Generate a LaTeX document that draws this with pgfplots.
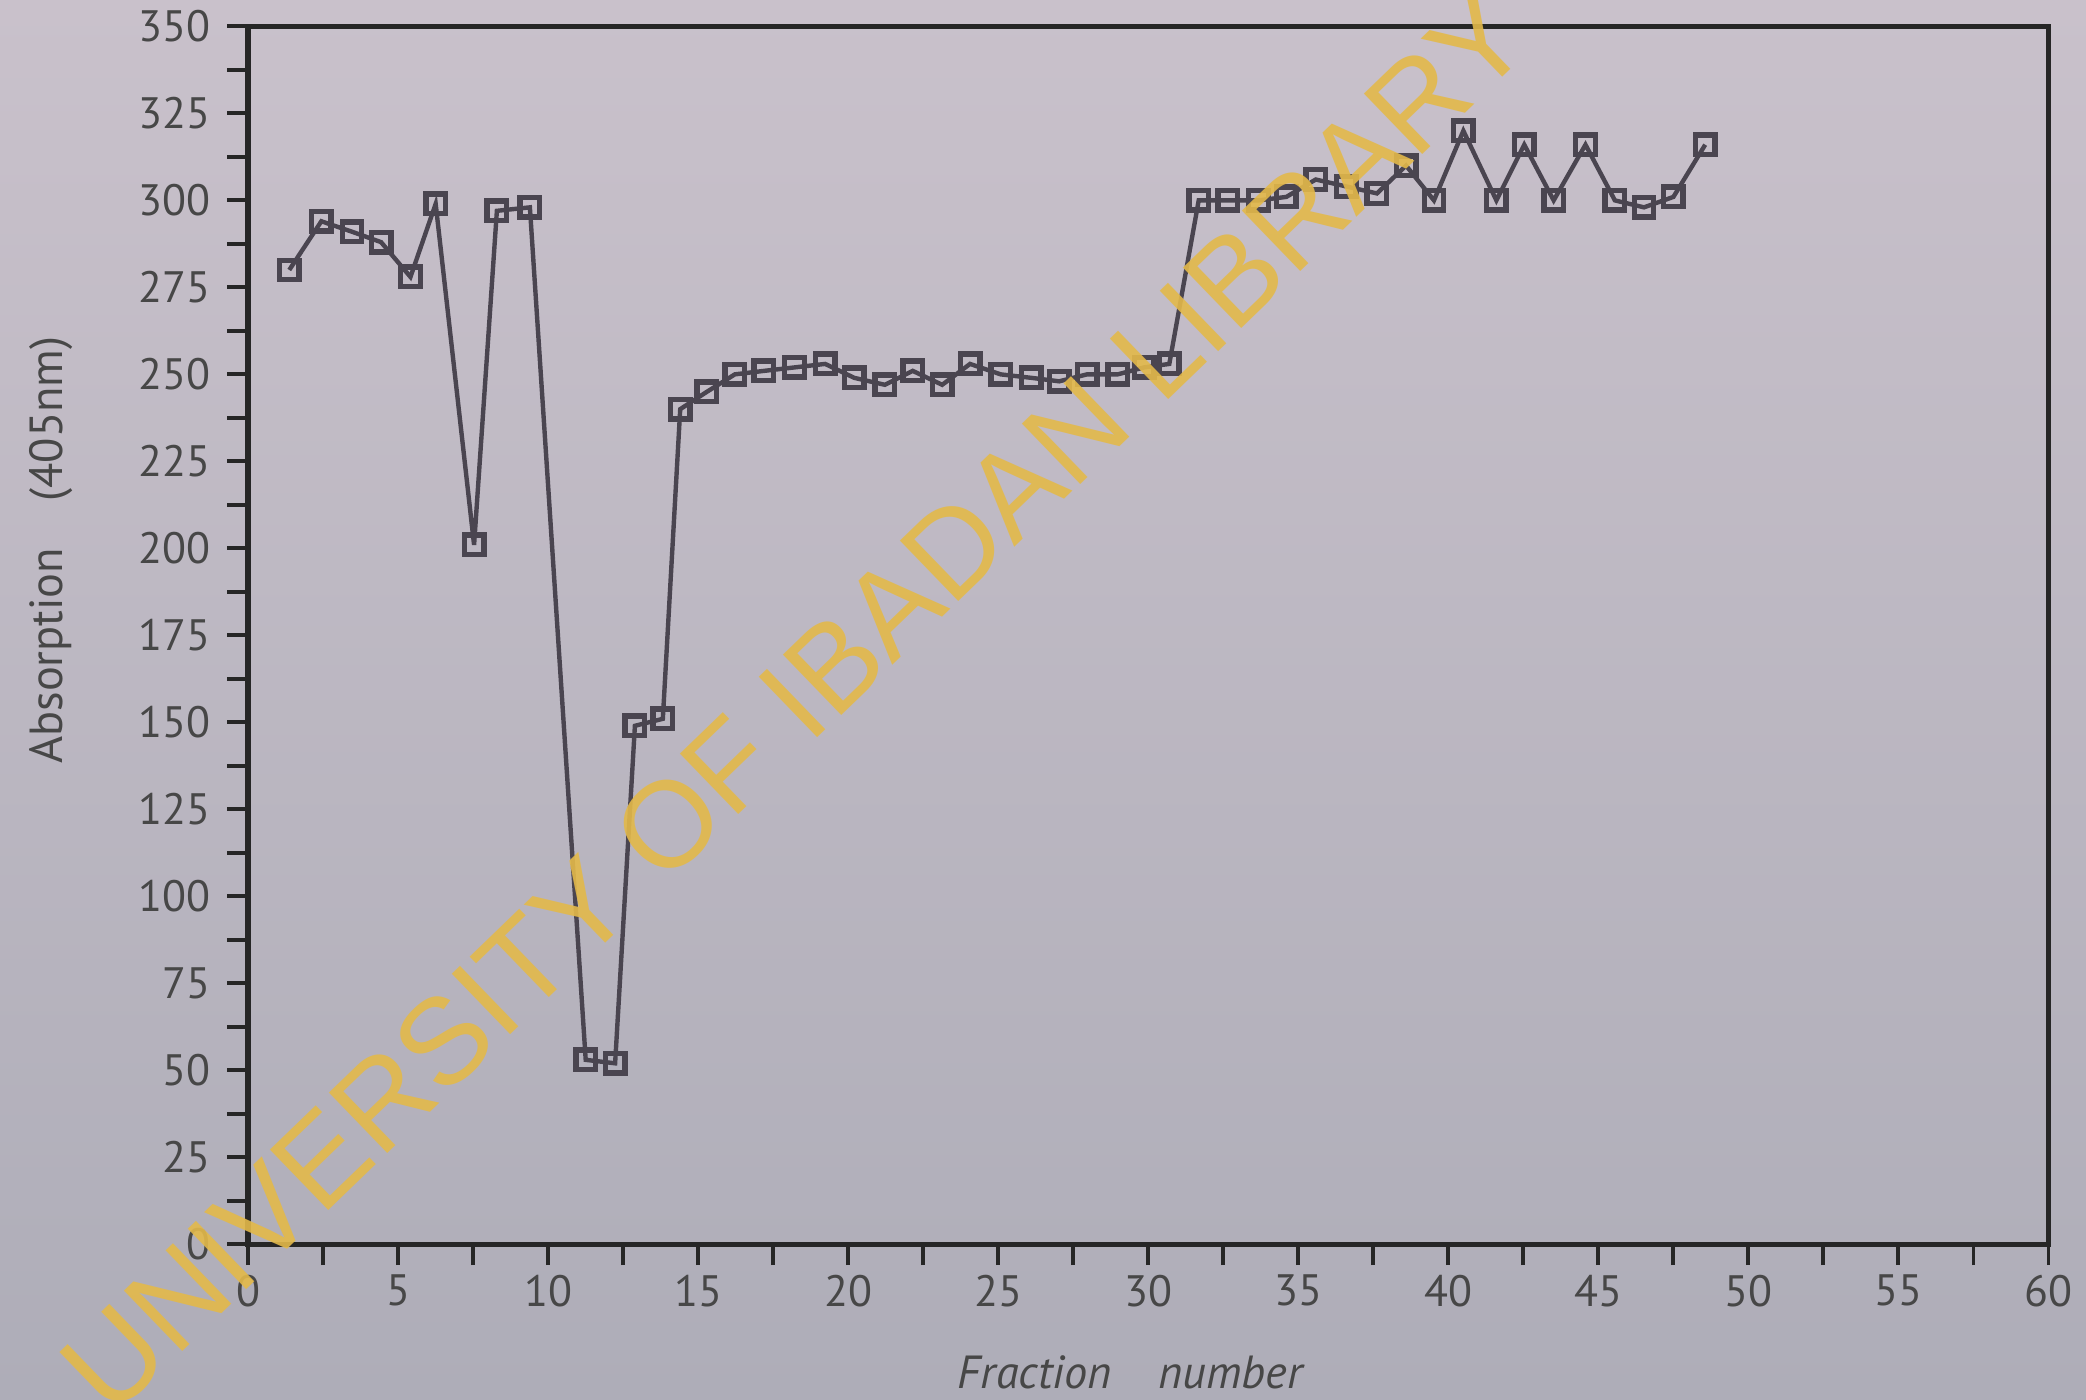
\documentclass[border=0pt]{standalone}
\usepackage{fontspec}
\setmainfont{PT Sans}
\newfontfamily\wmfont{Liberation Sans}
\usepackage{pgfplots}
\pgfplotsset{compat=1.18}
\definecolor{bgtop}{HTML}{C9C1CB}
\definecolor{bgbot}{HTML}{AEADB8}
\definecolor{ink}{HTML}{4A4550}
\definecolor{wm}{HTML}{E3B94A}
\pgfplotstableread{
x y
1.37 280
2.44 294
3.46 291
4.43 288
5.41 278
6.25 299
7.53 201
8.29 297
9.39 298
11.25 53
12.23 52
12.89 149
13.82 151
14.40 240
15.29 245
16.22 250
17.19 251
18.21 252
19.23 253
20.20 249
21.22 247
22.15 251
23.13 247
24.06 253
25.08 250
26.10 249
27.03 248
27.96 250
28.98 250
29.86 252
30.70 253
31.68 300
32.65 300
33.67 300
34.60 301
35.58 306
36.60 304
37.62 302
38.59 310
39.52 300
40.50 320
41.60 300
42.53 316
43.51 300
44.57 316
45.55 300
46.52 298
47.50 301
48.56 316
}\absdata
\begin{document}
\begin{tikzpicture}
\useasboundingbox (-1.785,-1.12) rectangle (13.22,8.95);
\clip (-1.785,-1.12) rectangle (13.22,8.95);
\shade[top color=bgtop, bottom color=bgbot] (-1.785,-1.12) rectangle (13.22,8.95);
\begin{axis}[
  scale only axis, width=12.95cm, height=8.76cm,
  at={(0,0)}, anchor=south west,
  xmin=0, xmax=60, ymin=0, ymax=350,
  xtick distance=5, ytick distance=25,
  minor x tick num=1, minor y tick num=1,
  tick align=outside, xtick pos=left, ytick pos=left,
  major tick length=0.15cm, minor tick length=0.15cm,
  every tick/.style={black!85, line width=0.8pt},
  axis line style={black!85, line width=1.1pt},
  ticklabel style={font=\fontsize{9}{10}\selectfont, text=black!72},
  xticklabel style={yshift=1.5pt},
  /pgf/number format/assume math mode=true,
  /pgf/number format/1000 sep={},
  xlabel={\itshape Fraction\quad number},
  ylabel={Absorption\quad(405nm)},
  label style={font=\fontsize{9.5}{11}\selectfont, text=black!72},
  xlabel style={at={(axis description cs:0.49,0)}, anchor=north, yshift=-0.68cm},
  ylabel style={at={(axis description cs:-0.088,0.57)}, anchor=south},
]
\addplot[color=ink, line width=0.9pt, mark=square, mark size=2pt,
  mark options={solid, line width=1.1pt, fill=bgtop}] table[x=x, y=y] {\absdata};
\end{axis}
\node[rotate=44, text=wm, opacity=0.9, font=\wmfont\fontsize{25}{25}\selectfont] at (3.93,3.90) {UNIVERSITY OF IBADAN LIBRARY};
\end{tikzpicture}
\end{document}
